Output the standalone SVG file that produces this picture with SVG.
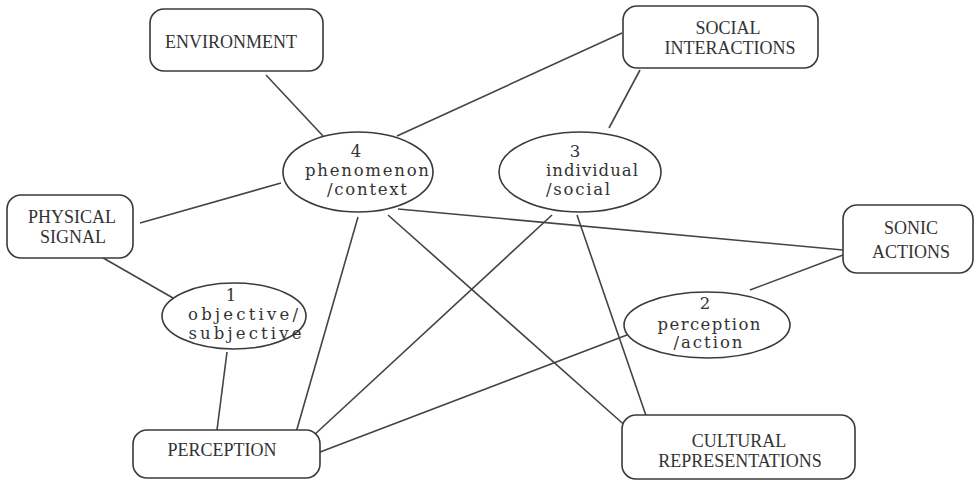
<svg xmlns="http://www.w3.org/2000/svg" width="976" height="481" viewBox="0 0 976 481">
<style>
.box{fill:#fff;stroke:#3a3a3a;stroke-width:1.6}
.ell{fill:#fff;stroke:#3a3a3a;stroke-width:1.6}
.bt{font-family:"Liberation Serif",serif;font-size:18px;fill:#333;text-anchor:middle}
.et{font-family:"DejaVu Serif",serif;font-size:16.5px;fill:#333;text-anchor:middle}
#connectors line{stroke:#444;stroke-width:1.6;fill:none}
</style>
<rect width="976" height="481" fill="#fff"/>
<g id="connectors">
<line x1="266" y1="75" x2="323" y2="136"/>
<line x1="397" y1="136" x2="622" y2="33"/>
<line x1="640" y1="70" x2="609" y2="128"/>
<line x1="140" y1="223" x2="281" y2="183"/>
<line x1="398" y1="209" x2="843" y2="250"/>
<line x1="843" y1="255" x2="750" y2="290"/>
<line x1="358" y1="217" x2="293" y2="443"/>
<line x1="388" y1="215" x2="638" y2="437"/>
<line x1="552" y1="215" x2="300" y2="448"/>
<line x1="577" y1="215" x2="652" y2="433"/>
<line x1="627" y1="335" x2="307" y2="457"/>
<line x1="98" y1="255" x2="173" y2="298"/>
<line x1="227" y1="352" x2="217" y2="430"/>
</g>
<g id="environment">
<rect class="box" x="150" y="9" width="173" height="62" rx="14"/>
<text class="bt" x="231" y="48">ENVIRONMENT</text>
</g>
<g id="social-interactions">
<rect class="box" x="623" y="6" width="195" height="62" rx="14"/>
<text class="bt" x="728" y="34">SOCIAL</text>
<text class="bt" x="730" y="54">INTERACTIONS</text>
</g>
<g id="physical-signal">
<rect class="box" x="7" y="195" width="126" height="63" rx="14"/>
<text class="bt" x="72" y="223">PHYSICAL</text>
<text class="bt" x="73" y="243">SIGNAL</text>
</g>
<g id="sonic-actions">
<rect class="box" x="843" y="205" width="130" height="68" rx="14"/>
<text class="bt" x="911" y="234">SONIC</text>
<text class="bt" x="911" y="258">ACTIONS</text>
</g>
<g id="perception">
<rect class="box" x="133" y="430" width="187" height="48" rx="14"/>
<text class="bt" x="222" y="456">PERCEPTION</text>
</g>
<g id="cultural-representations">
<rect class="box" x="622" y="415" width="233" height="64" rx="14"/>
<text class="bt" x="739" y="447">CULTURAL</text>
<text class="bt" x="740" y="467">REPRESENTATIONS</text>
</g>
<g id="node4">
<ellipse class="ell" cx="358" cy="172" rx="75" ry="40"/>
<text class="et" x="356" y="157">4</text>
<text class="et" x="367" y="176" textLength="124" lengthAdjust="spacing">phenomenon</text>
<text class="et" x="367" y="195" textLength="80" lengthAdjust="spacing">/context</text>
</g>
<g id="node3">
<ellipse class="ell" cx="580" cy="172" rx="81" ry="40"/>
<text class="et" x="575" y="157">3</text>
<text class="et" x="592" y="176" textLength="92" lengthAdjust="spacing">individual</text>
<text class="et" x="578" y="195" textLength="64" lengthAdjust="spacing">/social</text>
</g>
<g id="node1">
<ellipse class="ell" cx="234" cy="316" rx="72" ry="33"/>
<text class="et" x="231" y="301">1</text>
<text class="et" x="243" y="320" textLength="110" lengthAdjust="spacing">objective/</text>
<text class="et" x="245" y="339" textLength="113" lengthAdjust="spacing">subjective</text>
</g>
<g id="node2">
<ellipse class="ell" cx="707" cy="325" rx="83" ry="33"/>
<text class="et" x="705" y="309">2</text>
<text class="et" x="709" y="330" textLength="103" lengthAdjust="spacing">perception</text>
<text class="et" x="708" y="348" textLength="69" lengthAdjust="spacing">/action</text>
</g>
</svg>
